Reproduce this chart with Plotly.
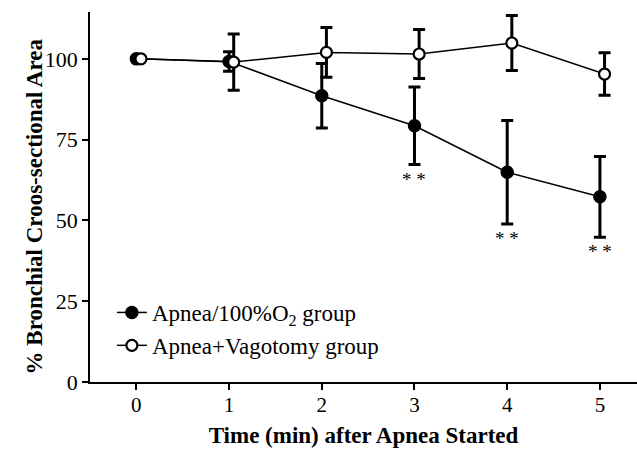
import plotly.graph_objects as go

time_min = [0, 1, 2, 3, 4, 5]
open_offset = 0.05  # small horizontal jitter of open markers, as in original

o2_mean = [100, 99.2, 88.6, 79.3, 64.9, 57.3]
o2_err = [0, 3.0, 10.0, 12.0, 16.0, 12.5]

vago_mean = [100, 99.0, 102.0, 101.5, 104.9, 95.3]
vago_err = [0, 8.7, 7.7, 7.6, 8.5, 6.6]

sig_times = [3, 4, 5]
sig_label = "* *"

ytick_vals = [0, 25, 50, 75, 100]
xtick_vals = [0, 1, 2, 3, 4, 5]

FONT = "Liberation Serif"

fig = go.Figure()

fig.add_trace(go.Scatter(
    x=time_min, y=o2_mean,
    mode="lines+markers",
    name="Apnea/100%O<sub>2</sub> group",
    line=dict(color="black", width=1.5),
    marker=dict(symbol="circle", size=12, color="black", line=dict(color="black", width=1.5)),
    error_y=dict(type="data", array=o2_err, visible=True, color="black", thickness=3, width=6),
))

fig.add_trace(go.Scatter(
    x=[t + open_offset for t in time_min], y=vago_mean,
    mode="lines+markers",
    name="Apnea+Vagotomy group",
    line=dict(color="black", width=1.5),
    marker=dict(symbol="circle", size=11, color="white", line=dict(color="black", width=2.2)),
    error_y=dict(type="data", array=vago_err, visible=True, color="black", thickness=3, width=6),
))

for t in sig_times:
    i = time_min.index(t)
    fig.add_annotation(
        x=t, y=o2_mean[i] - o2_err[i], text=sig_label, showarrow=False,
        yanchor="top", yshift=-2, font=dict(family=FONT, size=19, color="black"),
    )

# y-axis title as a rotated annotation (sits closer to tick labels as in the original)
fig.add_annotation(
    x=-0.102, y=0.475, xref="paper", yref="paper", xanchor="center", yanchor="middle",
    text="<b>% Bronchial Croos-sectional Area</b>", textangle=-90, showarrow=False,
    font=dict(family=FONT, size=23, color="black"),
)

fig.update_layout(
    width=637, height=449,
    margin=dict(l=90, r=0, t=12, b=67),
    paper_bgcolor="white", plot_bgcolor="white",
    font=dict(family=FONT, size=22, color="black"),
    showlegend=True,
    legend=dict(
        x=0.04, y=0.246, xanchor="left", yanchor="top",
        bgcolor="rgba(0,0,0,0)", font=dict(family=FONT, size=23, color="black"),
        itemwidth=30, tracegroupgap=0,
    ),
    xaxis=dict(
        range=[-0.5, 5.4], tickvals=xtick_vals, showgrid=False, zeroline=False,
        showline=True, linecolor="black", linewidth=1.5,
        ticks="outside", ticklen=6, tickwidth=1.5, tickcolor="black",
        tickfont=dict(family=FONT, size=21), ticklabelstandoff=-3,
        title=dict(text="<b>Time (min) after Apnea Started</b>", font=dict(family=FONT, size=23), standoff=11),
    ),
    yaxis=dict(
        range=[0, 114.5], tickvals=ytick_vals, showgrid=False, zeroline=False,
        showline=True, linecolor="black", linewidth=1.5,
        ticks="outside", ticklen=6, tickwidth=1.5, tickcolor="black",
        tickfont=dict(family=FONT, size=22),
    ),
)

fig.write_html("out.html")
